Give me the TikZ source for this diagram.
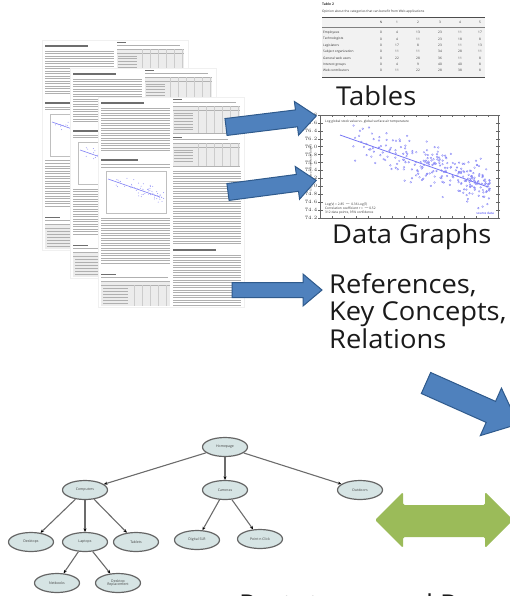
\documentclass[tikz,border=0pt]{standalone}
\usepackage{fontspec}
\setmainfont{Open Sans}
\newfontfamily\labelfont[FakeStretch=1.05]{Open Sans}
\usetikzlibrary{arrows.meta,shapes.geometric}
\definecolor{arrowblue}{HTML}{4F81BD}
\definecolor{arrowedge}{HTML}{2F5A8C}
\definecolor{arrowgreen}{HTML}{9BBB59}
\definecolor{treefill}{HTML}{D6E4E4}
\definecolor{treeedge}{HTML}{656565}
\definecolor{txtgray}{HTML}{B0B0B0}
\definecolor{headgray}{HTML}{6E6E6E}
\definecolor{plotblue}{HTML}{2B2BEE}
\definecolor{labelcol}{HTML}{1A1A1A}
\tikzset{
  bigtext/.style={font=\labelfont\fontsize{26}{28}\selectfont, text=labelcol, inner sep=0pt, anchor=base west},
  tinytext/.style={font=\fontsize{3.2}{3.8}\selectfont, inner sep=0pt, text=black!80},
  treenode/.style={ellipse, draw=treeedge, line width=1.2pt, fill=treefill, minimum width=45pt,
    minimum height=19pt, inner sep=0pt, font=\fontsize{3.5}{4}\selectfont, align=center, text=black!75},
  treelink/.style={draw=gray!85!black, line width=1.1pt, -{Stealth[length=3.5pt,width=3pt,color=black]}},
  blockarrow/.style={fill=arrowblue, draw=arrowedge, line width=1pt, line join=miter},
  textline/.style={txtgray, line width=1pt},
  headline/.style={headgray, line width=1.1pt},
  docpage/.pic={
    \fill[white] (0,0) rectangle (146,210);
    \draw[gray!12, line width=0.5pt] (0,0) rectangle (146,210);
    % left column
    \draw[headline] (3,6) -- (46,6);
    \foreach \y in {11.5,14,...,56} \draw[textline] (3,\y) -- (72,\y);
    \draw[headline] (3,63) -- (40,63);
    \foreach \y in {67.5,70} \draw[textline] (3,\y) -- (72,\y);
    \draw[gray!50, line width=0.4pt] (8,74) rectangle (68,116);
    \draw[plotblue!60, line width=0.6pt] (10,82) -- (62,100);
    \foreach \i in {1,...,60} {
      \pgfmathsetmacro\qx{12+54*sqrt(rnd)}
      \pgfmathsetmacro\qy{min(114,max(76,82+(\qx-10)*0.33+8*(rnd+rnd-1)))}
      \fill[plotblue!50] (\qx,\qy) circle (0.5);
    }
    \foreach \y in {121,123.5,...,168} \draw[textline] (3,\y) -- (72,\y);
    \draw[headline, line width=0.8pt] (3,177) -- (18,177);
    \draw[textline] (3,180) -- (70,180);
    \fill[gray!15] (3,184) rectangle (72,209);
    \draw[gray!60, line width=0.6pt] (3,184) -- (72,184) (3,188) -- (72,188);
    \foreach \y in {191,194,...,207} \draw[txtgray, line width=0.7pt] (5,\y) -- (30,\y);
    \foreach \x in {36,44,...,70} \draw[gray!40, line width=0.3pt] (\x,188) -- (\x,209);
    % right column
    \draw[headline, line width=0.8pt] (75,2.5) -- (84,2.5);
    \draw[textline] (75,5.5) -- (138,5.5);
    \fill[gray!15] (75,9) rectangle (142,36);
    \draw[gray!60, line width=0.6pt] (75,9) -- (142,9) (75,13) -- (142,13) (75,36) -- (142,36);
    \foreach \y in {16,18.8,...,34} \draw[txtgray, line width=0.7pt] (76,\y) -- (95,\y);
    \foreach \x in {100,108,...,140} \draw[gray!40, line width=0.3pt] (\x,9) -- (\x,36);
    \draw[headline, line width=0.8pt] (75,40) -- (84,40);
    \draw[textline] (75,43) -- (130,43);
    \fill[gray!15] (75,46) rectangle (142,69);
    \draw[gray!60, line width=0.6pt] (75,46) -- (142,46) (75,50) -- (142,50) (75,69) -- (142,69);
    \foreach \y in {53,55.8,...,67} \draw[txtgray, line width=0.7pt] (76,\y) -- (95,\y);
    \foreach \x in {100,108,...,140} \draw[gray!40, line width=0.3pt] (\x,46) -- (\x,69);
    \foreach \y in {74,76.5,...,148} \draw[textline] (75,\y) -- (143,\y);
    \draw[headline] (75,153) -- (118,153);
    \foreach \y in {158,160.5,...,208} \draw[textline] (75,\y) -- (143,\y);
  }
}
\begin{document}
\begin{tikzpicture}[x=1pt,y=-1pt]
\useasboundingbox (0,0) rectangle (510,596);
\clip (0,0) rectangle (510,596);
\pgfmathsetseed{11}

% ---------- stacked document pages ----------
\pic at (42,40) {docpage};
\pic at (70,68) {docpage};
\pic at (98,97) {docpage};

% ---------- table (top right) ----------
\node[tinytext, anchor=north west, font=\bfseries\fontsize{3.4}{4}\selectfont] (tabtitle) at (322,3) {Table 2};
\node[tinytext, anchor=north west] (tabcap) at (322,9.5) {Opinion about the categories that can benefit from Web applications};
\fill[gray!10] (322,17) rectangle (485,77);
\draw[black!70, line width=0.8pt] (322,17) -- (485,17);
\draw[black!50, line width=0.4pt] (322,27) -- (485,27);
\draw[black!70, line width=0.8pt] (322,77) -- (485,77);
\foreach \h/\x in {N/381,1/397,2/418,3/440,4/460,5/480}
  \node[tinytext] at (\x,22) {\h};
\foreach \lab/\a/\b/\c/\d/\e/\f [count=\r] in {
  Employees/0/4/13/23/11/17,
  Technologists/0/4/11/23/18/8,
  Legislators/0/17/8/23/11/13,
  Subject organization/0/11/11/34/28/11,
  General web users/0/22/28/36/11/8,
  Interest groups/0/4/9/40/40/8,
  Web contributors/0/11/22/28/38/8} {
  \pgfmathsetmacro\ry{26.5+\r*6.3}
  \node[tinytext, anchor=west] at (323,\ry) {\lab};
  \node[tinytext] at (381,\ry) {\a};
  \node[tinytext] at (397,\ry) {\b};
  \node[tinytext] at (418,\ry) {\c};
  \node[tinytext] at (440,\ry) {\d};
  \node[tinytext] at (460,\ry) {\e};
  \node[tinytext] at (480,\ry) {\f};
}

% ---------- scatter plot ----------
\draw[black!60, line width=0.4pt] (320,115) rectangle (498,218);
\foreach \x in {320,332,...,498} {
  \draw[black!60, line width=0.3pt] (\x,115) -- (\x,117.5);
  \draw[black!60, line width=0.3pt] (\x,218) -- (\x,215.5);
}
\foreach \i in {0,...,13} {
  \pgfmathsetmacro\ty{115+\i*7.9}
  \draw[black!60, line width=0.3pt] (318,\ty) -- (322.5,\ty);
  \draw[black!60, line width=0.3pt] (500,\ty) -- (495.5,\ty);
  \pgfmathsetmacro\tv{76.8-\i*0.2}
  \node[tinytext, anchor=east, font=\fontsize{2.6}{3}\selectfont] at (317.5,\ty) {\pgfmathprintnumber[fixed,precision=1,fixed zerofill]{\tv}};
}
\node[tinytext, rotate=90, font=\fontsize{2.6}{3}\selectfont] at (311,168) {Global surface air temperature (deg C)};
\node[tinytext, anchor=west] at (325,122) {Log global stock value vs. global surface air temperature};
\draw[plotblue!65, line width=0.8pt] (340,135) -- (488,187);
\foreach \i in {1,...,260} {
  \pgfmathsetmacro\px{338+152*sqrt(rnd)}
  \pgfmathsetmacro\py{min(212,max(121,136+(\px-340)*0.33+20*(rnd+rnd+rnd-1.5)))}
  \draw[plotblue!60, line width=0.3pt] (\px,\py) circle (0.9);
}
\node[tinytext, anchor=west] at (325,204) {Log(V) = 2.85 $-$ 0.36 Log(T)};
\node[tinytext, anchor=west] at (325,208.5) {Correlation coefficient r = $-$0.52};
\node[tinytext, anchor=west] at (325,213) {312 data points, 95\% confidence};
\node[tinytext, anchor=east, text=plotblue] at (494,213) {source data};

% ---------- labels ----------
\node[bigtext] (tables) at (336,106) {Tables};
\node[bigtext] (graphs) at (332,243) {Data Graphs};
\node[bigtext] (refs) at (329,293) {References,};
\node[bigtext] (keys) at (329,320.5) {Key Concepts,};
\node[bigtext] (rels) at (329,348) {Relations};
\node[bigtext] (proto) at (239,613) {Prototypes and Reports};

% ---------- blue block arrows ----------
\begin{scope}[shift={(226,127)}, rotate=7]
  \filldraw[blockarrow] (0,-8.5) -- (71,-8.5) -- (71,-17) -- (91,0) -- (71,17) -- (71,8.5) -- (0,8.5) -- cycle;
\end{scope}
\begin{scope}[shift={(228,192)}, rotate=7.5]
  \filldraw[blockarrow] (0,-8.5) -- (70,-8.5) -- (70,-16.5) -- (89,0) -- (70,16.5) -- (70,8.5) -- (0,8.5) -- cycle;
\end{scope}
\begin{scope}[shift={(232,290)}]
  \filldraw[blockarrow] (0,-7.5) -- (71,-7.5) -- (71,-16) -- (90,0) -- (71,16) -- (71,7.5) -- (0,7.5) -- cycle;
\end{scope}
\begin{scope}[shift={(426,383)}, rotate=-24]
  \filldraw[blockarrow] (0,-11.5) -- (71,-11.5) -- (71,-26) -- (101,0) -- (71,26) -- (71,11.5) -- (0,11.5) -- cycle;
\end{scope}

% ---------- green double arrow ----------
\fill[arrowgreen, rounded corners=1.5pt] (375,520) -- (403,492) -- (403,505) -- (485,505) -- (485,492)
  -- (513,520) -- (485,548) -- (485,537) -- (403,537) -- (403,548) -- cycle;

% ---------- tree ----------
\node[treenode] (home) at (225,447) {Homepage};
\node[treenode] (comp) at (85,490) {Computers};
\node[treenode] (cam) at (225,490) {Cameras};
\node[treenode] (out) at (360,490) {Outdoors};
\node[treenode] (desk) at (31,542) {Desktops};
\node[treenode] (lap) at (85,542) {Laptops};
\node[treenode] (tab) at (136,542) {Tablets};
\node[treenode] (slr) at (197,540) {Digital SLR};
\node[treenode] (pnc) at (260,539) {Point n Click};
\node[treenode] (net) at (57,583) {Netbooks};
\node[treenode] (drep) at (118,583) {Desktop\\[-0.5pt]Replacement};
\draw[treelink] (home) -- (comp);
\draw[treelink] (home) -- (cam);
\draw[treelink] (home) -- (out);
\draw[treelink] (comp) -- (desk);
\draw[treelink] (comp) -- (lap);
\draw[treelink] (comp) -- (tab);
\draw[treelink] (cam) -- (slr);
\draw[treelink] (cam) -- (pnc);
\draw[treelink] (lap) -- (net);
\draw[treelink] (lap) -- (drep);
\end{tikzpicture}
\end{document}
